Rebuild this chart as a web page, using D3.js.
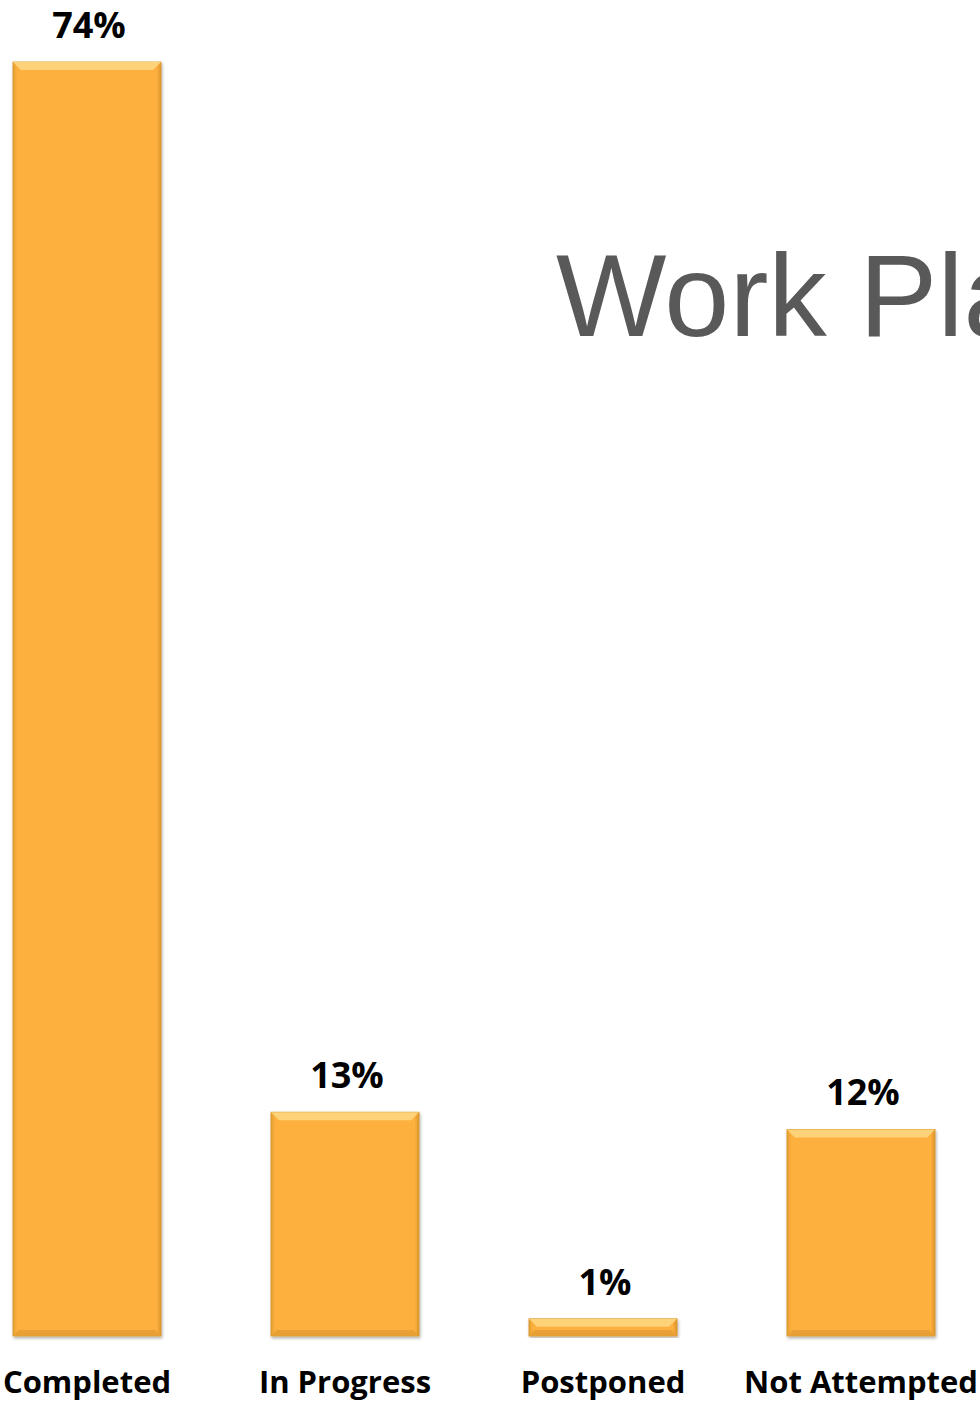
<!DOCTYPE html>
<html>
<head>
<meta charset="utf-8">
<script src="https://cdn.jsdelivr.net/npm/d3@7"></script>
<style>
  body { margin: 0; background: #fff; overflow: hidden; }
  svg { display: block; }
</style>
</head>
<body>
<script>
// work plan status data
const categories = ['Completed', 'In Progress', 'Postponed', 'Not Attempted'];
const percents = [74, 13, 1, 12];
const valueLabels = ['74%', '13%', '1%', '12%'];
const titleText = 'Work Plan Status';

const width = 980;
const height = 1403;

const svg = d3.select('body')
    .append('svg')
    .attr('width', width)
    .attr('height', height);

const defs = svg.append('defs');

// side shading of the bars
const side = defs.append('linearGradient').attr('id', 'sideGrad')
    .attr('x1', 0).attr('x2', 1).attr('y1', 0).attr('y2', 0);
side.append('stop').attr('offset', '0%').attr('stop-color', '#e3a035');
side.append('stop').attr('offset', '3%').attr('stop-color', '#fdb03d');
side.append('stop').attr('offset', '97%').attr('stop-color', '#fdb03d');
side.append('stop').attr('offset', '100%').attr('stop-color', '#dc962e');

const shadow = defs.append('filter').attr('id', 'shadow')
    .attr('x', '-10%').attr('y', '-10%').attr('width', '120%').attr('height', '120%');
shadow.append('feDropShadow').attr('dx', 1).attr('dy', 2).attr('stdDeviation', 1.5)
    .attr('flood-color', '#000').attr('flood-opacity', 0.3);

const xScale = d3.scaleBand()
    .domain(categories)
    .range([-42, 990])
    .paddingInner(0.426)
    .paddingOuter(0.213);

const yScale = d3.scaleLinear()
    .domain([0, 74])
    .range([1336, 62]);

// title (runs off the right edge like the reference)
svg.append('text')
    .attr('x', 556)
    .attr('y', 336)
    .attr('font-family', 'Liberation Sans, Arial, sans-serif')
    .attr('font-size', 117)
    .attr('fill', '#595959')
    .text(titleText);

const bars = svg.selectAll('.bar')
    .data(percents)
    .enter()
    .append('g')
    .attr('class', 'bar')
    .attr('filter', 'url(#shadow)');

bars.append('rect')
    .attr('x', (d, i) => xScale(categories[i]))
    .attr('y', d => yScale(d))
    .attr('width', xScale.bandwidth())
    .attr('height', d => yScale(0) - yScale(d))
    .attr('fill', 'url(#sideGrad)')
    .attr('stroke', '#d6932c')
    .attr('stroke-width', 0.8);

// bevel highlight along the top edge
bars.append('path')
    .attr('d', (d, i) => {
        const x0 = xScale(categories[i]);
        const x1 = x0 + xScale.bandwidth();
        const y0 = yScale(d);
        const b = Math.min(8, (yScale(0) - y0) / 2);
        return `M${x0},${y0}L${x1},${y0}L${x1 - b},${y0 + b}L${x0 + b},${y0 + b}Z`;
    })
    .attr('fill', '#fed680')
    .attr('opacity', 0.9);

// bottom bevel
bars.append('path')
    .attr('d', (d, i) => {
        const x0 = xScale(categories[i]);
        const x1 = x0 + xScale.bandwidth();
        const y1 = yScale(0);
        const b = Math.min(6, (y1 - yScale(d)) / 2);
        return `M${x0},${y1}L${x1},${y1}L${x1 - b},${y1 - b}L${x0 + b},${y1 - b}Z`;
    })
    .attr('fill', '#e59f35')
    .attr('opacity', 0.9);

svg.selectAll('.value')
    .data(percents)
    .enter()
    .append('text')
    .attr('class', 'value')
    .attr('x', (d, i) => xScale(categories[i]) + xScale.bandwidth() / 2 + 2)
    .attr('y', d => Math.max(36, yScale(d) - 24))
    .attr('text-anchor', 'middle')
    .attr('font-family', 'Open Sans, sans-serif')
    .attr('font-weight', 700)
    .attr('font-size', 36)
    .attr('fill', '#000')
    .text((d, i) => valueLabels[i]);

svg.selectAll('.cat')
    .data(categories)
    .enter()
    .append('text')
    .attr('class', 'cat')
    .attr('x', d => xScale(d) + xScale.bandwidth() / 2)
    .attr('y', 1393)
    .attr('text-anchor', 'middle')
    .attr('font-family', 'Open Sans, sans-serif')
    .attr('font-weight', 700)
    .attr('font-size', 31)
    .attr('fill', '#000')
    .text(d => d);
</script>
</body>
</html>
